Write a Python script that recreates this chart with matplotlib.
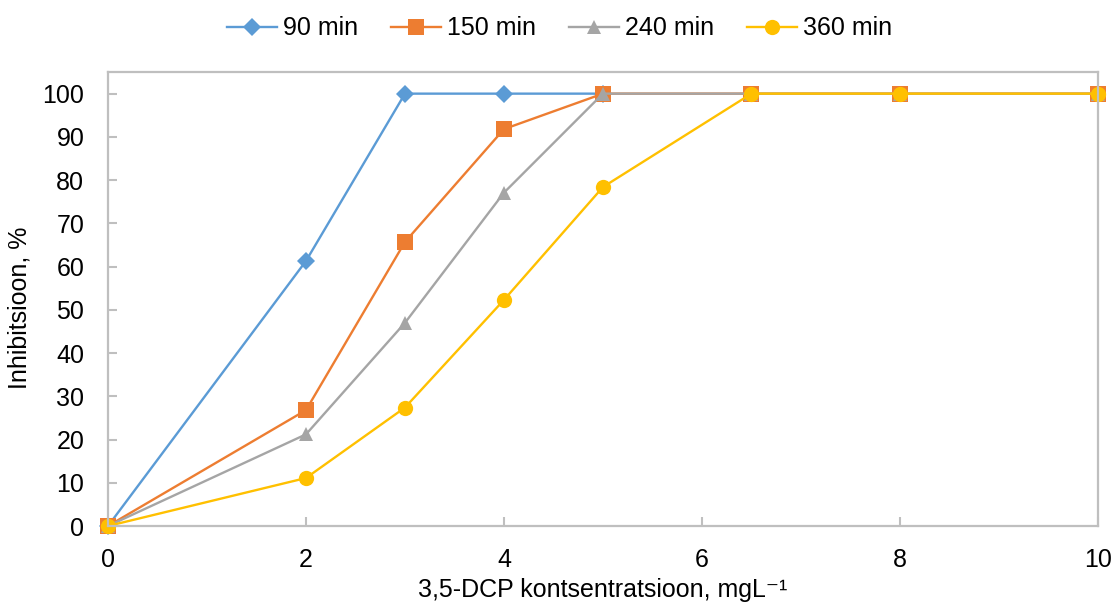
import matplotlib
matplotlib.use("Agg")
import matplotlib.pyplot as plt

plt.rcParams['font.family'] = ['Liberation Sans', 'DejaVu Sans']

x_90 = [0, 2, 3, 4, 5]
y_90 = [0, 61.3, 100, 100, 100]
x_all = [0, 2, 3, 4, 5, 6.5, 8, 10]
y_150 = [0, 26.8, 65.7, 91.8, 100, 100, 100, 100]
y_240 = [0, 21.2, 47.0, 77.1, 100, 100, 100, 100]
y_360 = [0, 11.1, 27.4, 52.3, 78.4, 100, 100, 100]
labels = ['90 min', '150 min', '240 min', '360 min']
colors = ['#5B9BD5', '#ED7D31', '#A5A5A5', '#FFC000']
markers = ['D', 's', '^', 'o']
xticks = [0, 2, 4, 6, 8, 10]
yticks = list(range(0, 101, 10))

fig = plt.figure(figsize=(11.19, 6.14), dpi=100)
ax = fig.add_axes([0.0965, 0.1433, 0.8847, 0.7394])

series = [(x_90, y_90), (x_all, y_150), (x_all, y_240), (x_all, y_360)]
msizes = [9, 11, 10.5, 11]
for (xs, ys), lab, c, m, ms in zip(series, labels, colors, markers, msizes):
    ax.plot(xs, ys, color=c, marker=m, markersize=ms, linewidth=1.7, label=lab,
            markeredgewidth=0, clip_on=False)

ax.set_xlim(0, 10)
ax.set_ylim(0, 105)
ax.set_xticks(xticks)
ax.set_yticks(yticks)
ax.tick_params(direction='in', length=6.5, width=1.5, color='#BFBFBF', labelsize=18)
ax.tick_params(axis='x', pad=16)
ax.tick_params(axis='y', pad=17)
for s in ax.spines.values():
    s.set_color('#BFBFBF')
    s.set_linewidth(1.6)

ax.set_ylabel('Inhibitsioon, %', fontsize=18)
ax.yaxis.set_label_coords(-0.077, 0.48)
ax.set_xlabel('3,5-DCP kontsentratsioon, mgL\u207b\u00b9', fontsize=18, labelpad=4)

fig.legend(loc='upper center', bbox_to_anchor=(0.5, 1.01), ncol=4, frameon=False,
           fontsize=18, handlelength=2.0, columnspacing=1.3, handletextpad=0.25)

fig.savefig('out.png', dpi=100)
